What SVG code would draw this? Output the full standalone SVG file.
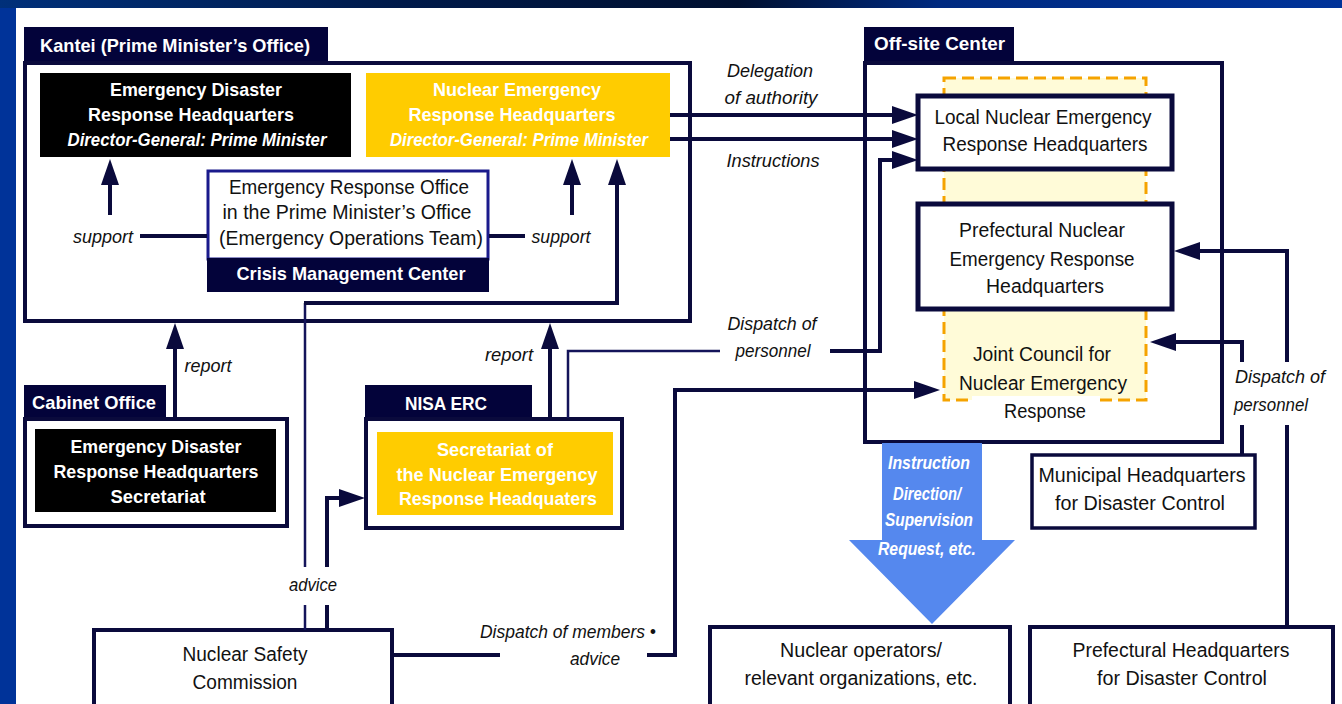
<svg xmlns="http://www.w3.org/2000/svg" width="1342" height="704" viewBox="0 0 1342 704">
<defs>
<linearGradient id="topband" x1="0" y1="0" x2="1" y2="0">
<stop offset="0" stop-color="#00307a"/>
<stop offset="0.3" stop-color="#001a4a"/>
<stop offset="0.55" stop-color="#001030"/>
<stop offset="0.7" stop-color="#002a80"/>
<stop offset="1" stop-color="#003399"/>
</linearGradient>
<marker id="ah" markerUnits="userSpaceOnUse" markerWidth="28" markerHeight="18" refX="2" refY="9" orient="auto">
<path d="M0,0 L26,9 L0,18 z" fill="#0a0a3c"/>
</marker>
<style>
.tab{fill:#03033a}
.box{fill:#fff;stroke:#0a0a3c;stroke-width:4}
.w{fill:#fff;font-family:"Liberation Sans",Arial,sans-serif;font-weight:bold;font-size:19px;text-anchor:middle}
.wl{fill:#fff;font-family:"Liberation Sans",Arial,sans-serif;font-weight:bold;font-size:19px}
.d{fill:#111;font-family:"Liberation Sans",Arial,sans-serif;font-size:20px;text-anchor:middle}
.it{fill:#111;font-family:"Liberation Sans",Arial,sans-serif;font-style:italic;font-size:19px;text-anchor:middle}
.bi{font-style:italic}
.ln{fill:none;stroke:#0a0a3c;stroke-width:4}
.thin{fill:none;stroke:#14145a;stroke-width:2.5}
.arr{marker-end:url(#ah)}
</style>
</defs>
<rect x="0" y="0" width="1342" height="704" fill="#003399"/>
<rect x="0" y="0" width="1342" height="8" fill="url(#topband)"/>
<rect x="16" y="8" width="1326" height="696" fill="#fff"/>

<g id="kantei">
<rect class="tab" x="24" y="27" width="304" height="36"/>
<text class="wl" x="40" y="52" textLength="270" lengthAdjust="spacingAndGlyphs">Kantei (Prime Minister’s Office)</text>
<rect class="box" x="25" y="63" width="665" height="258" fill="none"/>
</g>

<g id="edrh">
<rect x="40" y="73" width="311" height="84" fill="#000"/>
<text class="w" x="196" y="96" textLength="172" lengthAdjust="spacingAndGlyphs">Emergency Disaster</text>
<text class="w" x="191" y="121" textLength="206" lengthAdjust="spacingAndGlyphs">Response Headquarters</text>
<text class="w bi" x="197" y="146" textLength="259" lengthAdjust="spacingAndGlyphs">Director-General: Prime Minister</text>
</g>

<g id="nerh">
<rect x="366" y="73" width="304" height="84" fill="#ffcc00"/>
<text class="w" x="517" y="96" textLength="168" lengthAdjust="spacingAndGlyphs">Nuclear Emergency</text>
<text class="w" x="512" y="121" textLength="207" lengthAdjust="spacingAndGlyphs">Response Headquarters</text>
<text class="w bi" x="519" y="146" textLength="258" lengthAdjust="spacingAndGlyphs">Director-General: Prime Minister</text>
</g>

<g id="ero">
<rect x="208" y="171" width="280" height="88" fill="#fff" stroke="#1a1a8c" stroke-width="3"/>
<rect x="207" y="258" width="282" height="34" fill="#03033a"/>
<text class="d" x="349" y="194" textLength="240" lengthAdjust="spacingAndGlyphs">Emergency Response Office</text>
<text class="d" x="347" y="219" textLength="249" lengthAdjust="spacingAndGlyphs">in the Prime Minister’s Office</text>
<text class="d" x="351" y="245" textLength="264" lengthAdjust="spacingAndGlyphs">(Emergency Operations Team)</text>
<text class="w" x="351" y="280" textLength="229" lengthAdjust="spacingAndGlyphs">Crisis Management Center</text>
</g>

<g id="cabinet">
<rect class="tab" x="24" y="385" width="142" height="34"/>
<text class="wl" x="32" y="409" textLength="124" lengthAdjust="spacingAndGlyphs">Cabinet Office</text>
<rect class="box" x="25" y="419" width="262" height="107"/>
<rect x="35" y="429" width="241" height="83" fill="#000"/>
<text class="w" x="156" y="453" textLength="171" lengthAdjust="spacingAndGlyphs">Emergency Disaster</text>
<text class="w" x="156" y="478" textLength="205" lengthAdjust="spacingAndGlyphs">Response Headquarters</text>
<text class="w" x="158" y="503" textLength="95" lengthAdjust="spacingAndGlyphs">Secretariat</text>
</g>

<g id="nisa">
<rect class="tab" x="365" y="385" width="167" height="34"/>
<text class="w" x="446" y="410" textLength="82" lengthAdjust="spacingAndGlyphs">NISA ERC</text>
<rect class="box" x="366" y="419" width="256" height="109"/>
<rect x="377" y="432" width="236" height="83" fill="#ffcc00"/>
<text class="w" x="495" y="456" textLength="116" lengthAdjust="spacingAndGlyphs">Secretariat of</text>
<text class="w" x="497" y="481" textLength="201" lengthAdjust="spacingAndGlyphs">the Nuclear Emergency</text>
<text class="w" x="498" y="505" textLength="198" lengthAdjust="spacingAndGlyphs">Response Headquaters</text>
</g>

<g id="offsite">
<rect class="tab" x="864" y="27" width="150" height="36"/>
<text class="wl" x="874" y="50" textLength="131" lengthAdjust="spacingAndGlyphs">Off-site Center</text>
<rect class="box" x="865" y="63" width="357" height="379"/>
</g>

<g id="joint">
<rect x="944" y="78" width="202" height="322" fill="#fffbd8" stroke="#f5a300" stroke-width="3" stroke-dasharray="12,6"/>
<rect x="972" y="396" width="128" height="8" fill="#fff"/>
<text class="d" x="1042" y="361" textLength="138" lengthAdjust="spacingAndGlyphs">Joint Council for</text>
<text class="d" x="1043" y="390" textLength="168" lengthAdjust="spacingAndGlyphs">Nuclear Emergency</text>
<text class="d" x="1045" y="418" textLength="82" lengthAdjust="spacingAndGlyphs">Response</text>
</g>

<g id="local">
<rect x="918" y="96" width="254" height="73" fill="#fff" stroke="#0a0a3c" stroke-width="5"/>
<text class="d" x="1043" y="124" textLength="217" lengthAdjust="spacingAndGlyphs">Local Nuclear Emergency</text>
<text class="d" x="1045" y="151" textLength="205" lengthAdjust="spacingAndGlyphs">Response Headquarters</text>
</g>

<g id="prefnuc">
<rect x="918" y="204" width="254" height="105" fill="#fff" stroke="#0a0a3c" stroke-width="5"/>
<text class="d" x="1042" y="237" textLength="166" lengthAdjust="spacingAndGlyphs">Prefectural Nuclear</text>
<text class="d" x="1042" y="266" textLength="185" lengthAdjust="spacingAndGlyphs">Emergency Response</text>
<text class="d" x="1045" y="293" textLength="118" lengthAdjust="spacingAndGlyphs">Headquarters</text>
</g>

<g id="municipal">
<rect x="1032" y="455" width="223" height="73" fill="#fff" stroke="#0a0a3c" stroke-width="3.5"/>
<text class="d" x="1142" y="482" textLength="207" lengthAdjust="spacingAndGlyphs">Municipal Headquarters</text>
<text class="d" x="1140" y="510" textLength="170" lengthAdjust="spacingAndGlyphs">for Disaster Control</text>
</g>

<g id="operators">
<rect class="box" x="710" y="627" width="300" height="82"/>
<text class="d" x="861" y="657" textLength="162" lengthAdjust="spacingAndGlyphs">Nuclear operators/</text>
<text class="d" x="861" y="685" textLength="233" lengthAdjust="spacingAndGlyphs">relevant organizations, etc.</text>
</g>

<g id="prefhq">
<rect class="box" x="1030" y="627" width="303" height="82"/>
<text class="d" x="1181" y="657" textLength="217" lengthAdjust="spacingAndGlyphs">Prefectural Headquarters</text>
<text class="d" x="1182" y="685" textLength="170" lengthAdjust="spacingAndGlyphs">for Disaster Control</text>
</g>

<g id="nsc">
<rect class="box" x="94" y="630" width="298" height="82"/>
<text class="d" x="245" y="661" textLength="125" lengthAdjust="spacingAndGlyphs">Nuclear Safety</text>
<text class="d" x="245" y="689" textLength="105" lengthAdjust="spacingAndGlyphs">Commission</text>
</g>

<g id="instruction-arrow">
<polygon points="882,443 982,443 982,540 1015,540 932,624 849,540 882,540" fill="#5588ee"/>
<text class="w bi" x="929" y="469" textLength="82" lengthAdjust="spacingAndGlyphs">Instruction</text>
<text class="w bi" x="927" y="500" textLength="68" lengthAdjust="spacingAndGlyphs">Direction/</text>
<text class="w bi" x="929" y="526" textLength="88" lengthAdjust="spacingAndGlyphs">Supervision</text>
<text class="w bi" x="927" y="555" textLength="98" lengthAdjust="spacingAndGlyphs">Request, etc.</text>
</g>

<g id="connectors">
<path class="ln arr" d="M110,215 V183"/>
<path class="ln" d="M140,236 H207"/>
<path class="ln" d="M489,236 H525"/>
<path class="ln arr" d="M572,215 V183"/>
<path class="thin" d="M305,630 V605"/>
<path class="thin" d="M305,567 V303"/>
<path class="ln arr" d="M304,303 H617 V183"/>
<path class="ln" d="M327,630 V605"/>
<path class="ln arr" d="M327,567 V498 H341"/>
<path class="ln arr" d="M175,418 V347"/>
<path class="ln arr" d="M550,418 V347"/>
<path class="thin" d="M568,418 V351 H720"/>
<path class="ln arr" d="M830,351 H880 V160 H894"/>
<path class="ln arr" d="M670,115 H894"/>
<path class="ln arr" d="M670,139 H894"/>
<path class="ln" d="M392,655 H500"/>
<path class="ln arr" d="M647,655 H675 V390 H916"/>
<path class="ln" d="M1287,627 V425"/>
<path class="ln arr" d="M1287,362 V251 H1198"/>
<path class="ln" d="M1242,455 V425"/>
<path class="ln arr" d="M1242,362 V342 H1174"/>
</g>

<g id="labels">
<text class="it" x="103" y="243" textLength="60" lengthAdjust="spacingAndGlyphs">support</text>
<text class="it" x="561" y="243" textLength="59" lengthAdjust="spacingAndGlyphs">support</text>
<text class="it" x="208" y="372" textLength="47" lengthAdjust="spacingAndGlyphs">report</text>
<text class="it" x="509" y="361" textLength="48" lengthAdjust="spacingAndGlyphs">report</text>
<text class="it" x="313" y="591" textLength="48" lengthAdjust="spacingAndGlyphs">advice</text>
<text class="it" x="568" y="638" textLength="176" lengthAdjust="spacingAndGlyphs">Dispatch of members •</text>
<text class="it" x="595" y="665" textLength="50" lengthAdjust="spacingAndGlyphs">advice</text>
<text class="it" x="770" y="77" textLength="86" lengthAdjust="spacingAndGlyphs">Delegation</text>
<text class="it" x="771" y="104" textLength="93" lengthAdjust="spacingAndGlyphs">of authority</text>
<text class="it" x="773" y="167" textLength="93" lengthAdjust="spacingAndGlyphs">Instructions</text>
<text class="it" x="772" y="330" textLength="89" lengthAdjust="spacingAndGlyphs">Dispatch of</text>
<text class="it" x="773" y="357" textLength="75" lengthAdjust="spacingAndGlyphs">personnel</text>
<text class="it" x="1280" y="383" textLength="90" lengthAdjust="spacingAndGlyphs">Dispatch of</text>
<text class="it" x="1271" y="411" textLength="74" lengthAdjust="spacingAndGlyphs">personnel</text>
</g>
</svg>
